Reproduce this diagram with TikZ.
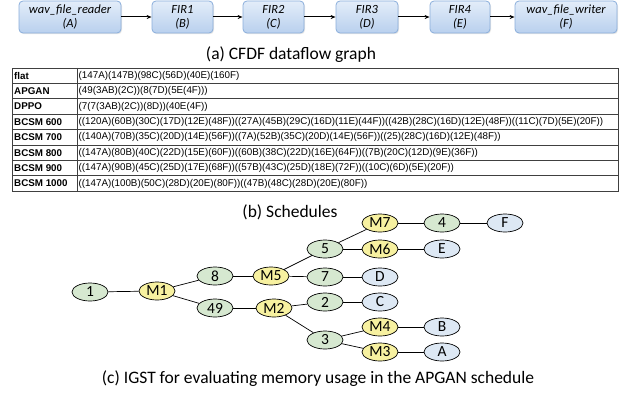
\documentclass[tikz,border=0pt]{standalone}
\usepackage{fontspec}
\setmainfont{Carlito}
\newfontfamily\arialf{Liberation Sans}
\usetikzlibrary{shapes.geometric,arrows.meta,shadows}
\definecolor{boxtop}{HTML}{E3EDF9}
\definecolor{boxbot}{HTML}{B9D0EE}
\definecolor{boxline}{HTML}{8AAEDB}
\definecolor{gfill}{HTML}{D6E8D0}
\definecolor{yfill}{HTML}{F7F1A0}
\definecolor{bfill}{HTML}{DDE8F4}
\tikzset{
  actor/.style={draw=boxline, line width=0.8pt, rounded corners=4pt, top color=boxtop, bottom color=boxbot,
    minimum height=32pt, inner sep=0pt, align=center, font=\fontsize{12.5}{14}\selectfont\itshape,
    drop shadow={opacity=0.2, shadow xshift=1pt, shadow yshift=-1.2pt}},
  flow/.style={-{Stealth[length=5pt,width=4pt]}, line width=1pt},
  tnode/.style={ellipse, draw, line width=0.7pt, minimum width=36pt, minimum height=18pt, inner sep=0pt,
    font=\fontsize{15.5}{15.5}\selectfont},
  gn/.style={tnode, fill=gfill},
  yn/.style={tnode, fill=yfill},
  bn/.style={tnode, fill=bfill},
  tedge/.style={line width=0.7pt},
  captxt/.style={font=\fontsize{17.5}{19}\selectfont},
  tcell/.style={anchor=west, inner sep=0pt, font=\arialf\fontsize{9.8}{10}\selectfont},
  thead/.style={tcell, font=\arialf\bfseries\fontsize{9.8}{10}\selectfont},
  tline/.style={line width=0.8pt, draw=black!75}
}
\begin{document}
\begin{tikzpicture}[x=1pt,y=-1pt]
\useasboundingbox (0,0) rectangle (629,396);
% (a) dataflow graph
\node[actor, minimum width=102pt] (A) at (70,17) {wav\_file\_reader\\(A)};
\node[actor, minimum width=61pt] (B) at (182.5,17) {FIR1\\(B)};
\node[actor, minimum width=61pt] (C) at (273.5,17) {FIR2\\(C)};
\node[actor, minimum width=62pt] (D) at (367,17) {FIR3\\(D)};
\node[actor, minimum width=60pt] (E) at (460,17) {FIR4\\(E)};
\node[actor, minimum width=102pt] (F) at (566,17) {wav\_file\_writer\\(F)};
\draw[flow] (A) -- (B);
\draw[flow] (B) -- (C);
\draw[flow] (C) -- (D);
\draw[flow] (D) -- (E);
\draw[flow] (E) -- (F);
\node[captxt] (capa) at (291,55) {(a) CFDF dataflow graph};
% (b) table
\def\tl{12}\def\tm{77}\def\tr{618}\def\ttop{68}\def\rh{15.4}
\draw[tline] (\tl,\ttop) rectangle (\tr,\ttop+8*\rh);
\foreach \i in {1,...,7} { \draw[tline] (\tl,\ttop+\i*\rh) -- (\tr,\ttop+\i*\rh); }
\draw[tline] (\tm,\ttop) -- (\tm,\ttop+8*\rh);
\foreach \i/\h/\s in {
  0/flat/{(147A)(147B)(98C)(56D)(40E)(160F)},
  1/APGAN/{(49(3AB)(2C))(8(7D)(5E(4F)))},
  2/DPPO/{(7(7(3AB)(2C))(8D))(40E(4F))},
  3/BCSM 600/{((120A)(60B)(30C)(17D)(12E)(48F))((27A)(45B)(29C)(16D)(11E)(44F))((42B)(28C)(16D)(12E)(48F))((11C)(7D)(5E)(20F))},
  4/BCSM 700/{((140A)(70B)(35C)(20D)(14E)(56F))((7A)(52B)(35C)(20D)(14E)(56F))((25)(28C)(16D)(12E)(48F))},
  5/BCSM 800/{((147A)(80B)(40C)(22D)(15E)(60F))((60B)(38C)(22D)(16E)(64F))((7B)(20C)(12D)(9E)(36F))},
  6/BCSM 900/{((147A)(90B)(45C)(25D)(17E)(68F))((57B)(43C)(25D)(18E)(72F))((10C)(6D)(5E)(20F))},
  7/BCSM 1000/{((147A)(100B)(50C)(28D)(20E)(80F))((47B)(48C)(28D)(20E)(80F))}} {
  \node[thead] (h\i) at (\tl+2,\ttop+\i*\rh+\rh/2) {\h};
  \node[tcell] (r\i) at (\tm+1.5,\ttop+\i*\rh+\rh/2) {\s};
}
\node[captxt] (capb) at (290,212) {(b) Schedules};
% (c) IGST
\node[gn] (n1) at (90,292) {1};
\node[yn] (m1) at (157,291) {M1};
\node[gn] (n8) at (215,276) {8};
\node[gn] (n49) at (215,308) {49};
\node[yn] (m5) at (271,276) {M5};
\node[yn] (m2) at (274,308) {M2};
\node[gn] (n5) at (325,249) {5};
\node[gn] (n7) at (325,277) {7};
\node[gn] (n2) at (325,302) {2};
\node[gn] (n3) at (325,340) {3};
\node[yn] (m7) at (380,223) {M7};
\node[yn] (m6) at (380,249) {M6};
\node[bn] (nd) at (380,277) {D};
\node[bn] (nc) at (380,302) {C};
\node[yn] (m4) at (380,327) {M4};
\node[yn] (m3) at (380,352) {M3};
\node[gn] (n4) at (442,223) {4};
\node[bn] (ne) at (442,249) {E};
\node[bn] (nb) at (442,327) {B};
\node[bn] (na) at (442,352) {A};
\node[bn] (nf) at (505,223) {F};
\draw[tedge] (n1) -- (m1);
\draw[tedge] (m1) -- (n8);
\draw[tedge] (m1) -- (n49);
\draw[tedge] (n8) -- (m5);
\draw[tedge] (n49) -- (m2);
\draw[tedge] (m5) -- (n5);
\draw[tedge] (m5) -- (n7);
\draw[tedge] (m2) -- (n2);
\draw[tedge] (m2) -- (n3);
\draw[tedge] (n5) -- (m7);
\draw[tedge] (n5) -- (m6);
\draw[tedge] (m7) -- (n4);
\draw[tedge] (n4) -- (nf);
\draw[tedge] (m6) -- (ne);
\draw[tedge] (n7) -- (nd);
\draw[tedge] (n2) -- (nc);
\draw[tedge] (n3) -- (m4);
\draw[tedge] (n3) -- (m3);
\draw[tedge] (m4) -- (nb);
\draw[tedge] (m3) -- (na);
\node[captxt] (capc) at (318,379) {(c) IGST for evaluating memory usage in the APGAN schedule};
\end{tikzpicture}
\end{document}
